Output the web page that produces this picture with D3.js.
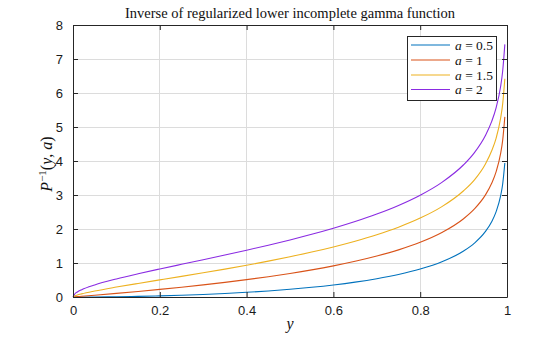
<!DOCTYPE html>
<html>
<head>
<meta charset="utf-8">
<script src="https://cdn.jsdelivr.net/npm/d3@7"></script>
<style>
  html, body { margin: 0; padding: 0; background: #fff; }
  svg { display: block; }
</style>
</head>
<body>
<svg id="chart" width="560" height="337"></svg>
<script>
// Probability levels y where P^{-1}(y, a) is tabulated
const yLevels = [0, 0.005, 0.01, 0.02, 0.05, 0.1, 0.15, 0.2, 0.25, 0.3, 0.35, 0.4, 0.45, 0.5,
  0.55, 0.6, 0.65, 0.7, 0.75, 0.8, 0.85, 0.9, 0.925, 0.95, 0.965, 0.975, 0.985, 0.99, 0.995];

// Inverse regularized lower incomplete gamma values, one list per shape a
const invA05 = [0, 0.0000196, 0.0000785, 0.000314, 0.001966, 0.007895, 0.01788, 0.03209, 0.05077,
  0.07424, 0.10295, 0.1375, 0.17866, 0.22747, 0.28533, 0.35416, 0.43673, 0.53709, 0.66165,
  0.82119, 1.03612, 1.35277, 1.58502, 1.92072, 2.22259, 2.51194, 2.95824, 3.31745, 3.93971];
const invA1 = [0, 0.005013, 0.01005, 0.0202, 0.0513, 0.1054, 0.1625, 0.2231, 0.2877, 0.3567,
  0.4308, 0.5108, 0.5978, 0.6931, 0.7985, 0.9163, 1.0498, 1.204, 1.3863, 1.6094, 1.8971,
  2.3026, 2.5903, 2.9957, 3.3524, 3.6889, 4.1997, 4.6052, 5.2983];
const invA15 = [0, 0.03586, 0.0574, 0.0924, 0.1759, 0.2922, 0.399, 0.5026, 0.6063, 0.7118,
  0.8209, 0.9346, 1.0549, 1.183, 1.3216, 1.4731, 1.6416, 1.8324, 2.0542, 2.3208, 2.6585,
  3.1257, 3.4473, 3.9074, 4.3083, 4.6742, 5.2392, 5.6724, 6.4191];
const invA2 = [0, 0.1034, 0.1486, 0.2147, 0.3554, 0.5318, 0.6833, 0.8243, 0.9613, 1.0973,
  1.235, 1.3764, 1.5235, 1.67835, 1.8436, 2.0223, 2.2189, 2.4392, 2.6926, 2.9943, 3.3724,
  3.8897, 4.2481, 4.7439, 5.1725, 5.5716, 6.1697, 6.6384, 7.4301];

const shapeLabels = ["0.5", "1", "1.5", "2"];
const seriesValues = [invA05, invA1, invA15, invA2];
const seriesColors = ["#0072bd", "#d95319", "#edb120", "#8a2be2"];

const xTicks = [0, 0.2, 0.4, 0.6, 0.8, 1];
const yTicks = [0, 1, 2, 3, 4, 5, 6, 7, 8];

(function draw() {
  const svg = d3.select("#chart");
  const mLeft = 73, mRight = 507, mTop = 25, mBottom = 297;

  const x = d3.scaleLinear().domain([0, 1]).range([mLeft, mRight]);
  const y = d3.scaleLinear().domain([0, 8]).range([mBottom, mTop]);

  const sans = "'Liberation Sans', Arial, Helvetica, sans-serif";
  const serif = "'Liberation Serif', 'Times New Roman', serif";
  const axisColor = "#262626";

  // Grid
  const grid = svg.append("g");
  grid.selectAll("line.gx").data(xTicks).join("line")
    .attr("class", "gx")
    .attr("x1", d => x(d)).attr("x2", d => x(d))
    .attr("y1", mTop).attr("y2", mBottom)
    .attr("stroke", "#dcdcdc").attr("stroke-width", 1).attr("shape-rendering", "crispEdges");
  grid.selectAll("line.gy").data(yTicks).join("line")
    .attr("class", "gy")
    .attr("x1", mLeft).attr("x2", mRight)
    .attr("y1", d => y(d)).attr("y2", d => y(d))
    .attr("stroke", "#dcdcdc").attr("stroke-width", 1).attr("shape-rendering", "crispEdges");

  // Curves
  const line = d3.line()
    .x(d => x(d[0]))
    .y(d => y(d[1]))
    .curve(d3.curveMonotoneX);

  const plot = svg.append("g");
  seriesValues.forEach((vals, i) => {
    plot.append("path")
      .datum(yLevels.map((v, k) => [v, vals[k]]))
      .attr("d", line)
      .attr("fill", "none")
      .attr("stroke", seriesColors[i])
      .attr("stroke-width", 1.1);
  });

  // Axes (box with inward ticks on all sides)
  const tickLen = 5;
  const xAxisB = d3.axisBottom(x).tickValues(xTicks).tickSizeInner(-tickLen).tickSizeOuter(0).tickPadding(9).tickFormat(d => String(d));
  const xAxisT = d3.axisTop(x).tickValues(xTicks).tickSizeInner(-tickLen).tickSizeOuter(0).tickFormat("");
  const yAxisL = d3.axisLeft(y).tickValues(yTicks).tickSizeInner(-tickLen).tickSizeOuter(0).tickPadding(10).tickFormat(d3.format("d"));
  const yAxisR = d3.axisRight(y).tickValues(yTicks).tickSizeInner(-tickLen).tickSizeOuter(0).tickFormat("");

  function styleAxis(g) {
    g.select(".domain").attr("stroke", axisColor).attr("stroke-width", 1);
    g.selectAll(".tick line").attr("stroke", axisColor).attr("stroke-width", 1);
    g.selectAll(".tick text").attr("fill", "#1a1a1a").style("font-family", sans).style("font-size", "13px");
  }

  svg.append("g").attr("transform", `translate(0,${mBottom})`).call(xAxisB).call(styleAxis);
  svg.append("g").attr("transform", `translate(0,${mTop})`).call(xAxisT).call(styleAxis);
  svg.append("g").attr("transform", `translate(${mLeft},0)`).call(yAxisL).call(styleAxis);
  svg.append("g").attr("transform", `translate(${mRight},0)`).call(yAxisR).call(styleAxis);

  // Title
  svg.append("text")
    .attr("x", (mLeft + mRight) / 2).attr("y", 18)
    .attr("text-anchor", "middle")
    .style("font-family", serif).style("font-size", "14.5px").attr("fill", "#111")
    .text("Inverse of regularized lower incomplete gamma function");

  // X label
  svg.append("text")
    .attr("x", (mLeft + mRight) / 2).attr("y", 329)
    .attr("text-anchor", "middle")
    .style("font-family", serif).style("font-size", "16px").style("font-style", "italic").attr("fill", "#111")
    .text("y");

  // Y label: P^{-1}(y, a)
  const yl = svg.append("text")
    .attr("transform", `translate(52,164) rotate(-90)`)
    .attr("text-anchor", "middle")
    .style("font-family", serif).style("font-size", "16px").attr("fill", "#111");
  yl.append("tspan").style("font-style", "italic").text("P");
  yl.append("tspan").attr("dy", -6).style("font-size", "11px").text("\u22121");
  yl.append("tspan").attr("dy", 6).text("(");
  yl.append("tspan").style("font-style", "italic").text("y");
  yl.append("tspan").text(", ");
  yl.append("tspan").style("font-style", "italic").text("a");
  yl.append("tspan").text(")");

  // Legend
  const lg = svg.append("g");
  lg.append("rect")
    .attr("x", 407.5).attr("y", 36.5).attr("width", 89).attr("height", 64)
    .attr("fill", "#fff").attr("stroke", axisColor).attr("stroke-width", 1);
  const rowY = [45, 60, 75, 89.5];
  shapeLabels.forEach((lab, i) => {
    lg.append("line")
      .attr("x1", 411).attr("x2", 450)
      .attr("y1", rowY[i]).attr("y2", rowY[i])
      .attr("stroke", seriesColors[i]).attr("stroke-width", 1.1);
    const t = lg.append("text")
      .attr("x", 455).attr("y", rowY[i] + 4.5)
      .style("font-family", serif).style("font-size", "13.5px").attr("fill", "#111");
    t.append("tspan").style("font-style", "italic").text("a");
    t.append("tspan").text(" = " + lab);
  });
})();
</script>
</body>
</html>
